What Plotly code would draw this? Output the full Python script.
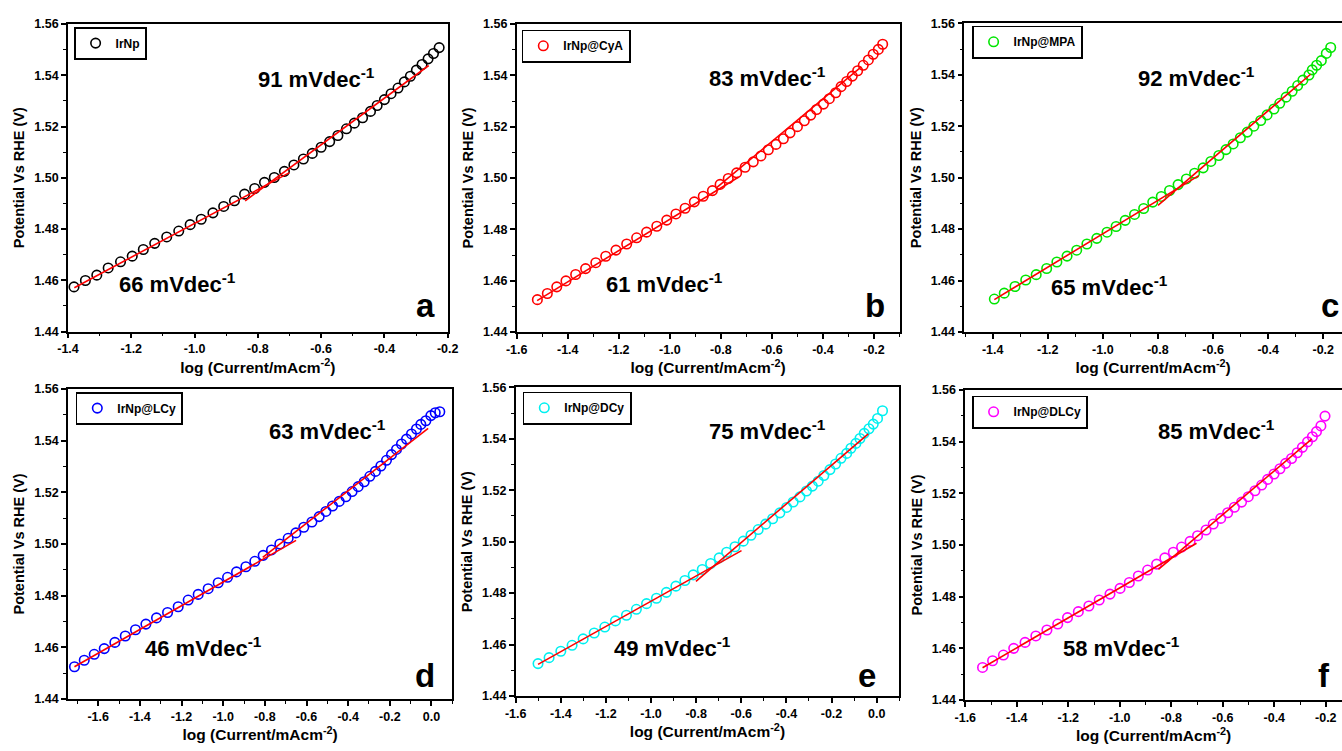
import plotly.graph_objects as go

W, H = 1342, 751

# ---------------- data ----------------
names = ["IrNp", "IrNp@CyA", "IrNp@MPA", "IrNp@LCy", "IrNp@DCy", "IrNp@DLCy"]
colors = ["#000000", "#FF0000", "#00E600", "#0000FF", "#00F0F0", "#FF00FF"]
letters = ["a", "b", "c", "d", "e", "f"]

a_x = [-1.381, -1.345, -1.309, -1.273, -1.234, -1.197, -1.162, -1.126, -1.088, -1.050,
       -1.014, -0.979, -0.942, -0.908, -0.874, -0.842, -0.810, -0.779, -0.748, -0.716,
       -0.686, -0.656, -0.628, -0.600, -0.573, -0.547, -0.520, -0.495, -0.469, -0.444,
       -0.423, -0.400, -0.379, -0.357, -0.337, -0.318, -0.299, -0.281, -0.262, -0.245, -0.227]
a_y = [1.4574, 1.4599, 1.4620, 1.4648, 1.4672, 1.4694, 1.4720, 1.4744, 1.4769, 1.4792,
       1.4817, 1.4838, 1.4863, 1.4888, 1.4910, 1.4936, 1.4958, 1.4982, 1.5001, 1.5025,
       1.5050, 1.5073, 1.5095, 1.5119, 1.5141, 1.5165, 1.5191, 1.5213, 1.5234, 1.5259,
       1.5282, 1.5305, 1.5328, 1.5350, 1.5374, 1.5396, 1.5420, 1.5442, 1.5464, 1.5485, 1.5508]

b_x = [-1.519, -1.480, -1.443, -1.407, -1.369, -1.330, -1.290, -1.251, -1.211, -1.169,
       -1.130, -1.091, -1.051, -1.012, -0.976, -0.940, -0.904, -0.869, -0.833, -0.803,
       -0.771, -0.738, -0.705, -0.673, -0.643, -0.614, -0.584, -0.555, -0.529, -0.500,
       -0.473, -0.448, -0.425, -0.398, -0.375, -0.350, -0.329, -0.307, -0.285, -0.264,
       -0.242, -0.222, -0.203, -0.183, -0.166]
b_y = [1.4526, 1.4550, 1.4576, 1.4599, 1.4624, 1.4647, 1.4670, 1.4695, 1.4719, 1.4743,
       1.4767, 1.4789, 1.4812, 1.4836, 1.4860, 1.4882, 1.4907, 1.4929, 1.4951, 1.4975,
       1.4998, 1.5020, 1.5042, 1.5063, 1.5086, 1.5110, 1.5131, 1.5153, 1.5176, 1.5200,
       1.5223, 1.5245, 1.5267, 1.5288, 1.5309, 1.5332, 1.5356, 1.5376, 1.5397, 1.5418,
       1.5439, 1.5460, 1.5482, 1.5501, 1.5521]

c_x = [-1.394, -1.358, -1.319, -1.280, -1.242, -1.204, -1.167, -1.130, -1.095, -1.058,
       -1.022, -0.985, -0.952, -0.919, -0.885, -0.852, -0.819, -0.788, -0.758, -0.727,
       -0.697, -0.667, -0.636, -0.608, -0.579, -0.553, -0.527, -0.501, -0.476, -0.452,
       -0.427, -0.404, -0.379, -0.358, -0.335, -0.313, -0.293, -0.274, -0.252, -0.240,
       -0.224, -0.207, -0.189, -0.173]
c_y = [1.4528, 1.4551, 1.4577, 1.4602, 1.4623, 1.4647, 1.4672, 1.4695, 1.4718, 1.4742,
       1.4764, 1.4788, 1.4810, 1.4834, 1.4857, 1.4880, 1.4905, 1.4927, 1.4950, 1.4973,
       1.4995, 1.5017, 1.5038, 1.5063, 1.5086, 1.5109, 1.5131, 1.5155, 1.5177, 1.5200,
       1.5222, 1.5244, 1.5267, 1.5289, 1.5313, 1.5336, 1.5358, 1.5379, 1.5399, 1.5419,
       1.5437, 1.5455, 1.5483, 1.5506]

d_x = [-1.714, -1.667, -1.619, -1.571, -1.520, -1.470, -1.421, -1.371, -1.320, -1.267,
       -1.216, -1.168, -1.120, -1.072, -1.024, -0.979, -0.936, -0.891, -0.848, -0.808,
       -0.768, -0.728, -0.688, -0.651, -0.613, -0.574, -0.539, -0.507, -0.475, -0.443,
       -0.411, -0.381, -0.352, -0.323, -0.296, -0.269, -0.243, -0.216, -0.192, -0.168,
       -0.144, -0.120, -0.096, -0.072, -0.051, -0.027, -0.003, 0.018, 0.040]
d_y = [1.4525, 1.4550, 1.4573, 1.4595, 1.4619, 1.4644, 1.4668, 1.4690, 1.4714, 1.4735,
       1.4757, 1.4783, 1.4805, 1.4827, 1.4850, 1.4871, 1.4892, 1.4912, 1.4933, 1.4956,
       1.4977, 1.5000, 1.5022, 1.5043, 1.5065, 1.5085, 1.5106, 1.5126, 1.5147, 1.5165,
       1.5183, 1.5203, 1.5222, 1.5241, 1.5262, 1.5281, 1.5302, 1.5324, 1.5346, 1.5366,
       1.5387, 1.5406, 1.5426, 1.5445, 1.5463, 1.5477, 1.5497, 1.5508, 1.5512]

e_x = [-1.501, -1.452, -1.400, -1.350, -1.301, -1.252, -1.205, -1.158, -1.109, -1.065,
       -1.020, -0.976, -0.932, -0.890, -0.850, -0.813, -0.773, -0.736, -0.698, -0.665,
       -0.628, -0.591, -0.557, -0.525, -0.492, -0.461, -0.429, -0.399, -0.370, -0.340,
       -0.311, -0.285, -0.259, -0.234, -0.207, -0.182, -0.158, -0.133, -0.114, -0.092,
       -0.074, -0.055, -0.034, -0.015, 0.004, 0.026]
e_y = [1.4526, 1.4549, 1.4574, 1.4597, 1.4622, 1.4645, 1.4668, 1.4692, 1.4714, 1.4737,
       1.4759, 1.4780, 1.4803, 1.4827, 1.4849, 1.4871, 1.4892, 1.4915, 1.4937, 1.4959,
       1.4980, 1.5002, 1.5025, 1.5047, 1.5068, 1.5089, 1.5112, 1.5133, 1.5154, 1.5174,
       1.5197, 1.5216, 1.5235, 1.5257, 1.5280, 1.5302, 1.5324, 1.5343, 1.5363, 1.5382,
       1.5401, 1.5421, 1.5439, 1.5457, 1.5479, 1.5509]

f_x = [-1.533, -1.494, -1.452, -1.412, -1.368, -1.326, -1.283, -1.241, -1.203, -1.161,
       -1.120, -1.080, -1.038, -0.999, -0.963, -0.928, -0.892, -0.857, -0.825, -0.792,
       -0.760, -0.727, -0.698, -0.665, -0.637, -0.608, -0.581, -0.555, -0.527, -0.501,
       -0.475, -0.449, -0.426, -0.401, -0.378, -0.356, -0.333, -0.311, -0.291, -0.271,
       -0.252, -0.236, -0.219, -0.203]
f_y = [1.4526, 1.4552, 1.4574, 1.4600, 1.4623, 1.4648, 1.4671, 1.4694, 1.4719, 1.4742,
       1.4764, 1.4787, 1.4810, 1.4832, 1.4855, 1.4880, 1.4903, 1.4926, 1.4950, 1.4972,
       1.4992, 1.5014, 1.5036, 1.5058, 1.5081, 1.5103, 1.5125, 1.5146, 1.5166, 1.5187,
       1.5210, 1.5232, 1.5254, 1.5275, 1.5295, 1.5316, 1.5335, 1.5357, 1.5378, 1.5399,
       1.5419, 1.5439, 1.5461, 1.5499]

# Tafel fit segments (low-current and high-current regions)
fit_low_x = [[-1.38, -0.70], [-1.52, -0.73], [-1.394, -0.652], [-1.714, -0.65], [-1.501, -0.599], [-1.533, -0.702]]
fit_low_y = [[1.4571, 1.5020], [1.4522, 1.5004], [1.4526, 1.5008], [1.4525, 1.5014], [1.4523, 1.4965], [1.4525, 1.5007]]
fit_high_x = [[-0.84, -0.26], [-0.82, -0.25], [-0.80, -0.246], [-0.81, -0.016], [-0.801, -0.037], [-0.850, -0.255]]
fit_high_y = [[1.4910, 1.5438], [1.4960, 1.5433], [1.4892, 1.5402], [1.4948, 1.5448], [1.4846, 1.5419], [1.4906, 1.5410]]

slope_high = ["91", "83", "92", "63", "75", "85"]
slope_low = ["66", "61", "65", "46", "49", "58"]

x_ranges = [[-1.4, -0.2], [-1.6, -0.1], [-1.503, -0.132], [-1.745, 0.1], [-1.6, 0.1], [-1.6, -0.137]]
x_ticks = [
    [-1.4, -1.2, -1.0, -0.8, -0.6, -0.4, -0.2],
    [-1.6, -1.4, -1.2, -1.0, -0.8, -0.6, -0.4, -0.2],
    [-1.4, -1.2, -1.0, -0.8, -0.6, -0.4, -0.2],
    [-1.6, -1.4, -1.2, -1.0, -0.8, -0.6, -0.4, -0.2, 0.0],
    [-1.6, -1.4, -1.2, -1.0, -0.8, -0.6, -0.4, -0.2, 0.0],
    [-1.6, -1.4, -1.2, -1.0, -0.8, -0.6, -0.4, -0.2],
]
y_ticks = [1.44, 1.46, 1.48, 1.50, 1.52, 1.54, 1.56]
y_tick_labels = ["1.44", "1.46", "1.48", "1.50", "1.52", "1.54", "1.56"]
y_range = [1.44, 1.56]

xs = [a_x, b_x, c_x, d_x, e_x, f_x]
ys = [a_y, b_y, c_y, d_y, e_y, f_y]

# ---------------- layout geometry (pixels) ----------------
dom_px = [
    (68, 447.7, 24, 331.5),
    (516.7, 899.5, 24, 332),
    (964.3, 1342, 23.3, 332),
    (68, 452.3, 389, 699),
    (515.7, 899.2, 387.3, 696),
    (965.3, 1342, 390, 700),
]
legend_px = [(74, 27), (521.7, 29.7), (972, 25.7), (75.7, 392), (522.7, 391.7), (972, 395.7)]
hi_lbl_px = [(256, 78), (707, 77), (1135.7, 77), (266.7, 430), (707.3, 430), (1155.7, 430)]
lo_lbl_px = [(117, 283), (604, 283), (1049, 286), (142.7, 647), (612.3, 647), (1060.7, 647)]
letter_px = [(437, 318), (887, 318), (1341, 318), (437, 688), (878, 688), (1332, 688)]

FONT = "Liberation Sans, Arial, sans-serif"


def px(x):
    return x / W


def py(y):
    return 1 - y / H


def fmt(v):
    return f"{v:.1f}"


fig = go.Figure()
annotations = []
layout = dict(
    width=W, height=H,
    margin=dict(l=0, r=0, t=0, b=0, autoexpand=False),
    paper_bgcolor="white", plot_bgcolor="white",
    font=dict(family=FONT, color="black"),
)

for i in range(6):
    sfx = "" if i == 0 else str(i + 1)
    xa, ya = "x" + sfx, "y" + sfx
    lg = "legend" + sfx
    x0, x1, y0, y1 = dom_px[i]
    fig.add_trace(go.Scatter(
        x=xs[i], y=ys[i], mode="markers", name=names[i],
        marker=dict(symbol="circle-open", size=9.5, color=colors[i], line=dict(width=1.6, color=colors[i])),
        xaxis=xa, yaxis=ya, legend=lg, showlegend=True,
    ))
    fig.add_trace(go.Scatter(
        x=fit_low_x[i], y=fit_low_y[i], mode="lines",
        line=dict(color="#FF0000", width=1.6), xaxis=xa, yaxis=ya, showlegend=False,
    ))
    fig.add_trace(go.Scatter(
        x=fit_high_x[i], y=fit_high_y[i], mode="lines",
        line=dict(color="#FF0000", width=1.6), xaxis=xa, yaxis=ya, showlegend=False,
    ))
    layout["xaxis" + sfx] = dict(
        domain=[px(x0), px(x1)], range=x_ranges[i], anchor=ya, automargin=False,
        showline=True, linecolor="black", linewidth=1.6, mirror=True,
        showgrid=False, zeroline=False,
        tickmode="array", tickvals=x_ticks[i], ticktext=[fmt(v) for v in x_ticks[i]],
        ticks="outside", ticklen=5, tickwidth=1.5, tickcolor="black",
        tickfont=dict(family=FONT, size=12.5, weight="bold", color="black"),
        minor=dict(tickmode="linear", tick0=0, dtick=0.1, ticks="outside", ticklen=3,
                   tickwidth=1.3, tickcolor="black", showgrid=False),
        title=dict(text="log (Current/mAcm<sup>-2</sup>)", standoff=6,
                   font=dict(family=FONT, size=15.5, weight="bold", color="black")),
    )
    layout["yaxis" + sfx] = dict(
        domain=[py(y1), py(y0)], range=y_range, anchor=xa, automargin=False,
        showline=True, linecolor="black", linewidth=1.6, mirror=(i not in (2, 5)),
        showgrid=False, zeroline=False,
        tickmode="array", tickvals=y_ticks, ticktext=y_tick_labels,
        ticks="outside", ticklen=5, tickwidth=1.5, tickcolor="black",
        tickfont=dict(family=FONT, size=12.5, weight="bold", color="black"),
        minor=dict(tickmode="linear", tick0=0, dtick=0.01, ticks="outside", ticklen=3,
                   tickwidth=1.3, tickcolor="black", showgrid=False),
        title=dict(text="Potential Vs RHE (V)", standoff=6,
                   font=dict(family=FONT, size=14.5, weight="bold", color="black")),
    )
    lx, ly = legend_px[i]
    layout[lg] = dict(
        x=px(lx), y=py(ly), xanchor="left", yanchor="top",
        bgcolor="white", bordercolor="black", borderwidth=1.6,
        font=dict(family=FONT, size=12, weight="bold", color="black"),
        itemwidth=30, tracegroupgap=0,
    )
    hx, hy = hi_lbl_px[i]
    annotations.append(dict(
        x=px(hx), y=py(hy), xref="paper", yref="paper", xanchor="left", yanchor="middle",
        text=f"{slope_high[i]} mVdec<sup>-1</sup>", showarrow=False,
        font=dict(family=FONT, size=22, weight="bold", color="black"),
    ))
    lx2, ly2 = lo_lbl_px[i]
    annotations.append(dict(
        x=px(lx2), y=py(ly2), xref="paper", yref="paper", xanchor="left", yanchor="middle",
        text=f"{slope_low[i]} mVdec<sup>-1</sup>", showarrow=False,
        font=dict(family=FONT, size=22, weight="bold", color="black"),
    ))
    tx, ty = letter_px[i]
    annotations.append(dict(
        x=px(tx), y=py(ty), xref="paper", yref="paper", xanchor="right", yanchor="bottom",
        yshift=-8, text=letters[i], showarrow=False,
        font=dict(family=FONT, size=33, weight="bold", color="black"),
    ))

layout["annotations"] = annotations
fig.update_layout(**layout)
fig.write_html("out.html", config={"displayModeBar": False},
               post_script="document.body.style.margin='0px';")
